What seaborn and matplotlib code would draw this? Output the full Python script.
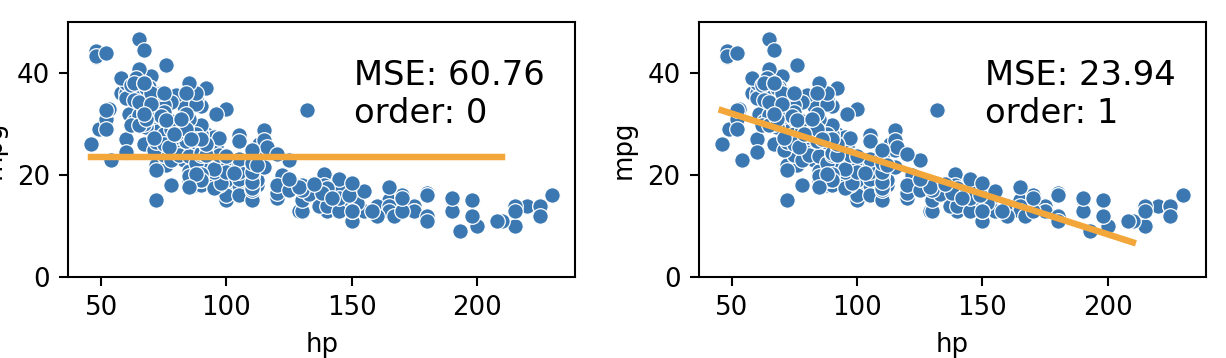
import numpy as np
import seaborn as sns
import matplotlib.pyplot as plt

# auto mpg data (rows with horsepower present), in dataset order
mpg = [18, 15, 18, 16, 17, 15, 14, 14, 14, 15,
       15, 14, 15, 14, 24, 22, 18, 21, 27, 26,
       25, 24, 25, 26, 21, 10, 10, 11, 9, 27,
       28, 25, 19, 16, 17, 19, 18, 14, 14, 14,
       14, 12, 13, 13, 18, 22, 19, 18, 23, 28,
       30, 30, 31, 35, 27, 26, 24, 25, 23, 20,
       21, 13, 14, 15, 14, 17, 11, 13, 12, 13,
       19, 15, 13, 13, 14, 18, 22, 21, 26, 22,
       28, 23, 28, 27, 13, 14, 13, 14, 15, 12,
       13, 13, 14, 13, 12, 13, 18, 16, 18, 18,
       23, 26, 11, 12, 13, 12, 18, 20, 21, 22,
       18, 19, 21, 26, 15, 16, 29, 24, 20, 19,
       15, 24, 20, 11, 20, 19, 15, 31, 26, 32,
       25, 16, 16, 18, 16, 13, 14, 14, 14, 29,
       26, 26, 31, 32, 28, 24, 26, 24, 26, 31,
       19, 18, 15, 15, 16, 15, 16, 14, 17, 16,
       15, 18, 21, 20, 13, 29, 23, 20, 23, 24,
       25, 24, 18, 29, 19, 23, 23, 22, 25, 33,
       28, 25, 25, 26, 27, 17.5, 16, 15.5, 14.5, 22,
       22, 24, 22.5, 29, 24.5, 29, 33, 20, 18, 18.5,
       17.5, 29.5, 32, 28, 26.5, 20, 13, 19, 19, 16.5,
       16.5, 13, 13, 13, 31.5, 30, 36, 25.5, 33.5, 17.5,
       17, 15.5, 15, 17.5, 20.5, 19, 18.5, 16, 15.5, 15.5,
       16, 29, 24.5, 26, 25.5, 30.5, 33.5, 30, 30.5, 22,
       21.5, 21.5, 43.1, 36.1, 32.8, 39.4, 36.1, 19.9, 19.4, 20.2,
       19.2, 20.5, 20.2, 25.1, 20.5, 19.4, 20.6, 20.8, 18.6, 18.1,
       19.2, 17.7, 18.1, 17.5, 30, 27.5, 27.2, 30.9, 21.1, 23.2,
       23.8, 23.9, 20.3, 17, 21.6, 16.2, 31.5, 29.5, 21.5, 19.8,
       22.3, 20.2, 20.6, 17, 17.6, 16.5, 18.2, 16.9, 15.5, 19.2,
       18.5, 31.9, 34.1, 35.7, 27.4, 25.4, 23, 27.2, 23.9, 34.2,
       34.5, 31.8, 37.3, 28.4, 28.8, 26.8, 33.5, 41.5, 38.1, 32.1,
       37.2, 28, 26.4, 24.3, 19.1, 34.3, 29.8, 31.3, 37, 32.2,
       46.6, 27.9, 40.8, 44.3, 43.4, 36.4, 30, 44.6, 33.8, 29.8,
       32.7, 23.7, 35, 32.4, 27.2, 26.6, 25.8, 23.5, 30, 39.1,
       39, 35.1, 32.3, 37, 37.7, 34.1, 34.7, 34.4, 29.9, 33,
       33.7, 32.4, 32.9, 31.6, 28.1, 30.7, 25.4, 24.2, 22.4, 26.6,
       20.2, 17.6, 28, 27, 34, 31, 29, 27, 24, 36,
       37, 31, 38, 36, 36, 36, 34, 38, 32, 38,
       25, 38, 26, 22, 32, 36, 27, 27, 44, 32,
       28, 31]

hp = [130, 165, 150, 150, 140, 198, 220, 215, 225, 190,
      170, 160, 150, 225, 95, 95, 97, 85, 88, 46,
      87, 90, 95, 113, 90, 215, 200, 210, 193, 88,
      90, 95, 100, 105, 100, 88, 100, 165, 175, 153,
      150, 180, 170, 175, 110, 72, 100, 88, 86, 90,
      70, 76, 65, 69, 60, 70, 95, 80, 54, 90,
      86, 165, 175, 150, 153, 150, 208, 155, 160, 190,
      97, 150, 130, 140, 150, 112, 76, 87, 69, 86,
      92, 97, 80, 88, 175, 150, 145, 137, 150, 198,
      150, 158, 150, 215, 225, 175, 105, 100, 100, 88,
      95, 46, 150, 167, 170, 180, 100, 88, 72, 94,
      90, 85, 107, 90, 145, 230, 49, 75, 91, 112,
      150, 110, 122, 180, 95, 100, 100, 67, 80, 65,
      75, 100, 110, 105, 140, 150, 150, 140, 150, 83,
      67, 78, 52, 61, 75, 75, 75, 97, 93, 67,
      95, 105, 72, 72, 170, 145, 150, 148, 110, 105,
      110, 95, 110, 110, 129, 75, 83, 100, 78, 96,
      71, 97, 97, 70, 90, 95, 88, 98, 115, 53,
      86, 81, 92, 79, 83, 140, 150, 120, 152, 100,
      105, 81, 90, 52, 60, 70, 53, 100, 78, 110,
      95, 71, 70, 75, 72, 102, 150, 88, 108, 120,
      180, 145, 130, 150, 68, 80, 58, 96, 70, 145,
      110, 145, 130, 110, 105, 100, 98, 180, 170, 190,
      149, 78, 88, 75, 89, 63, 83, 67, 78, 97,
      110, 110, 48, 66, 52, 70, 60, 110, 140, 139,
      105, 95, 85, 88, 100, 90, 105, 85, 110, 120,
      145, 165, 139, 140, 68, 95, 97, 75, 95, 105,
      85, 97, 103, 125, 115, 133, 71, 68, 115, 85,
      88, 90, 110, 130, 129, 138, 135, 155, 142, 125,
      150, 71, 65, 80, 80, 77, 125, 71, 90, 70,
      70, 65, 69, 90, 115, 115, 90, 76, 60, 70,
      65, 90, 88, 90, 90, 78, 90, 75, 92, 75,
      65, 105, 65, 48, 48, 67, 67, 67, 67, 62,
      132, 100, 88, 72, 84, 84, 92, 110, 84, 58,
      64, 60, 67, 65, 62, 68, 63, 65, 65, 74,
      75, 75, 100, 74, 80, 76, 116, 120, 110, 105,
      88, 85, 88, 88, 88, 85, 84, 90, 92, 74,
      68, 68, 63, 70, 88, 75, 70, 67, 67, 67,
      110, 85, 92, 112, 96, 84, 90, 86, 52, 84,
      79, 82]

orders = [0, 1]
mse_values = [60.76, 23.94]
fit_range = (46, 210)

hp = np.array(hp, dtype=float)
mpg = np.array(mpg, dtype=float)

fig, axes = plt.subplots(1, 2, figsize=(1226 / 187, 358 / 187), dpi=187)
fig.subplots_adjust(left=0.0555, right=0.9837, bottom=0.2263, top=0.9385, wspace=0.243)

for ax, order, mse in zip(axes, orders, mse_values):
    coefs = np.polyfit(hp, mpg, order)
    xs = np.linspace(fit_range[0], fit_range[1], 50)
    sns.scatterplot(x=hp, y=mpg, ax=ax, color="#3b78b2",
                    label="MSE: {:.2f}\norder: {}".format(mse, order))
    sns.lineplot(x=xs, y=np.polyval(coefs, xs), ax=ax, color="#f3a73a", linewidth=2.5)
    ax.set_ylim(0, 50)
    ax.set_yticks([0, 20, 40])
    ax.set_xlabel("hp")
    ax.set_ylabel("mpg")
    leg = ax.legend(loc="upper right", bbox_to_anchor=(1, 0.975),
                    frameon=False, fontsize=13)
    # the reference shows only the text, no legend marker
    for h in leg.legend_handles:
        h.set_visible(False)

plt.savefig("out.png", dpi=187)
